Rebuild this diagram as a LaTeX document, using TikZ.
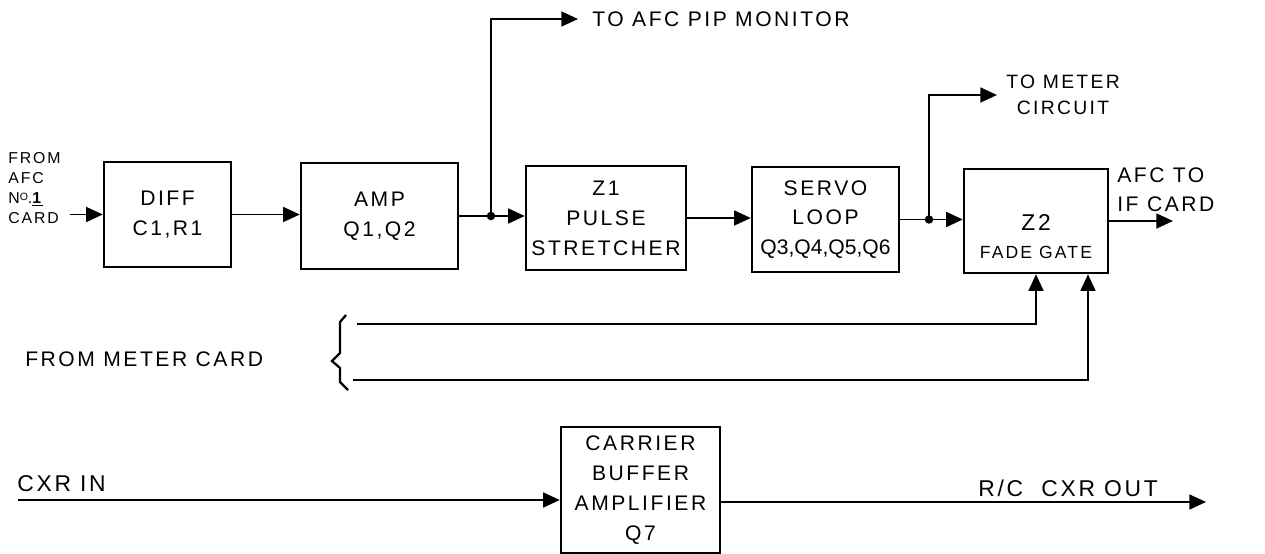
\documentclass[tikz,border=0pt]{standalone}
\usepackage{fontspec}
\setmainfont{Liberation Sans}[LetterSpace=12]
\newfontfamily\tightfont{Liberation Sans}
\usetikzlibrary{arrows.meta}
\begin{document}
\begin{tikzpicture}[x=0.02cm,y=-0.02cm,
  box/.style={draw, line width=1.4pt, inner sep=0pt, align=center,
              font=\fontsize{12}{17}\selectfont},
  lbl/.style={inner sep=0pt, font=\fontsize{12}{17}\selectfont},
  wire/.style={line width=1.1pt},
  arr/.style={wire, -{Triangle[length=9.5pt,width=8.5pt]}},
  jdot/.style={circle, fill, inner sep=0pt, minimum size=0.17cm}
]
\useasboundingbox (0,0) rectangle (1265,554);

% main blocks
\node[box, minimum width=2.54cm, minimum height=2.10cm] (diff) at (167.5,214.5) {DIFF\\C1,R1};
\node[box, minimum width=3.14cm, minimum height=2.12cm] (amp) at (379.5,216) {AMP\\Q1,Q2};
\node[box, minimum width=3.20cm, minimum height=2.08cm] (z1) at (606,218) {Z1\\PULSE\\STRETCHER};
\node[box, minimum width=2.94cm, minimum height=2.10cm] (servo) at (825.5,219.5)
  {SERVO\\LOOP\\{\tightfont\fontsize{12}{17}\selectfont Q3,Q4,Q5,Q6}};
\node[box, minimum width=2.88cm, minimum height=2.08cm] (z2) at (1036,221) {};
\node[lbl, align=center] (z2t) at (1036,237)
  {\fontsize{13}{17}\selectfont Z2\\[-1pt]\fontsize{10}{14}\selectfont FADE GATE};
\node[box, minimum width=3.18cm, minimum height=2.52cm] (carrier) at (640.5,490)
  {CARRIER\\BUFFER\\AMPLIFIER\\Q7};

% input label
\node[lbl, anchor=west, align=left, font=\fontsize{9}{11.3}\selectfont] (fromafc) at (8,188)
  {FROM\\AFC\\N\raisebox{0.35ex}{\fontsize{6}{7}\selectfont O}.\underline{\textbf{1}}\\CARD};
\coordinate (inL) at (70,214.5);
\draw[arr] (inL) -- (inL -| diff.west);

% main chain
\coordinate (j1) at (491,216);
\coordinate (j2) at (929,219.5);
\draw[arr] (diff.east) -- (diff.east -| amp.west);
\draw[wire] (amp.east) -- (j1);
\draw[arr] (j1) -- (j1 -| z1.west);
\draw[arr] (z1.east) -- (z1.east -| servo.west);
\draw[wire] (servo.east) -- (j2);
\draw[arr] (j2) -- (j2 -| z2.west);
\node[jdot] (d1) at (j1) {};
\node[jdot] (d2) at (j2) {};

% branch outputs
\node[lbl, anchor=west] (pip) at (592,19) {TO AFC PIP MONITOR};
\draw[arr] (j1) |- ([xshift=-0.28cm]pip.west);
\node[lbl, anchor=west, align=center, font=\fontsize{11}{14.5}\selectfont] (meter) at (1006,95)
  {TO METER\\CIRCUIT};
\draw[arr] (j2) |- ([xshift=-0.18cm]meter.west);

% output
\coordinate (afcout) at (1173,221);
\draw[arr] (z2.east) -- (afcout);
\node[lbl, anchor=west, align=left, font=\fontsize{12}{16.5}\selectfont] (afcif) at (1117,190)
  {AFC TO\\IF CARD};

% from meter card
\node[lbl, anchor=west] (fmc) at (25,359) {FROM METER CARD};
\draw[line width=1.3pt] (346,315) -- (340,322) -- (340,353) -- (332,361)
  -- (340,368) -- (340,382) -- (348,390);
\coordinate (m1) at (357,324);
\coordinate (m2) at (353,380);
\draw[arr] (m1) -| (z2.south);
\draw[arr] (m2) -| ([xshift=1.04cm]z2.south);

% carrier path
\coordinate (cin) at (18,500);
\coordinate (cout) at (1206,502);
\node[lbl, anchor=west, font=\fontsize{13}{16}\selectfont] (cxrin) at (17,484) {CXR IN};
\node[lbl, anchor=west, font=\fontsize{13}{16}\selectfont] (cxrout) at (978,488) {R/C\ \ CXR OUT};
\draw[arr] (cin) -- (cin -| carrier.west);
\draw[arr] (cout -| carrier.east) -- (cout);
\end{tikzpicture}
\end{document}
